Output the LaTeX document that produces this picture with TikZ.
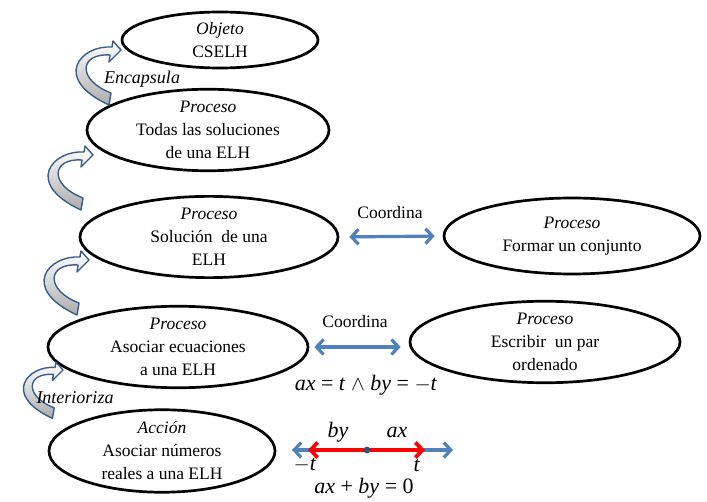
\documentclass[tikz,border=0pt]{standalone}
\usepackage{fontspec}
\setmainfont{Liberation Serif}
\usetikzlibrary{shapes.geometric,arrows.meta}
\definecolor{ablue}{RGB}{79,129,189}
\definecolor{dblue}{RGB}{56,93,138}
\definecolor{dotc}{RGB}{50,80,120}
\begin{document}
\begin{tikzpicture}[x=1pt,y=-1pt,
  elli/.style={draw, ellipse, line width=2.7pt, inner sep=0pt, align=center,
    font=\fontsize{17.5}{23}\selectfont},
  lab/.style={inner sep=0pt, font=\fontsize{17.5}{21}\selectfont},
  mlab/.style={inner sep=0pt, font=\fontsize{22}{26}\selectfont},
  coord/.style={ablue, line width=3.2pt,
    {Straight Barb[length=7pt,width=15pt]}-{Straight Barb[length=7pt,width=15pt]}},
  redarr/.style={red, line width=3.8pt, -{Straight Barb[length=7pt,width=15pt]}},
  uturn/.pic={
    \path[draw=dblue, line width=1.4pt, top color=white, bottom color=gray!65, line join=round]
      (-9,-3) .. controls (-40,-5) and (-70,28) .. (-12,55) -- (-10,43)
      .. controls (-44,30) and (-42,3) .. (-11,5) -- (-12,12) -- (0,0) -- (-8,-9) -- cycle;
  }]
\useasboundingbox (0,0) rectangle (707,502);

\node[elli, minimum width=196pt, minimum height=56pt] (e1) at (220,40) {\textit{Objeto}\\CSELH};
\node[elli, minimum width=242pt, minimum height=76pt] (e2) at (208,130) {\textit{Proceso}\\Todas las soluciones\\de una ELH};
\node[elli, minimum width=258pt, minimum height=77pt] (e3) at (209,237) {\textit{Proceso}\\Solución\ \ de una\\ELH};
\node[elli, minimum width=256pt, minimum height=76pt] (e4) at (572,236) {\textit{Proceso}\\Formar un conjunto};
\node[elli, minimum width=260pt, minimum height=72pt] (e5) at (178,347) {\textit{Proceso}\\Asociar ecuaciones\\a una ELH};
\node[elli, minimum width=270pt, minimum height=76pt] (e6) at (545,342) {\textit{Proceso}\\Escribir\ \ un par\\ordenado};
\node[elli, minimum width=226pt, minimum height=82pt] (e7) at (162,451) {\textit{Acción}\\Asociar números\\reales a una ELH};

\pic at (121,50) {uturn};
\pic at (93,155) {uturn};
\pic at (89,260) {uturn};
\pic[scale=0.88] at (63,370) {uturn};

\node[lab, font=\fontsize{18}{21}\selectfont\itshape] (enc) at (142,79) {Encapsula};
\node[lab, font=\fontsize{18}{21}\selectfont\itshape] (inte) at (75,398) {Interioriza};

\node[lab] (co1) at (390,213) {Coordina};
\draw[coord, shorten <=10pt, shorten >=8pt] (e3.east) -- (e4.west);
\node[lab] (co2) at (355,322) {Coordina};
\draw[coord, shorten <=5pt, shorten >=8pt] (e5.east) -- (e5.east -| e6.west);

\node[mlab] (eq1) at (366,385) {\textit{ax} = \textit{t} $\wedge$\ \textit{by} = $-$\textit{t}};

\coordinate (nl) at (292,450);
\coordinate (nr) at (453,450);
\coordinate (c0) at (367,450);
\coordinate (mt) at (308,450);
\coordinate (tt) at (425,450);
\draw[coord] (nl) -- (nr);
\draw[redarr] (c0) -- (mt);
\draw[redarr] (c0) -- (tt);
\fill[dotc] (c0) circle (3.4);
\node[mlab] (lby) at (338,432) {\textit{by}};
\node[mlab] (lax) at (397,432) {\textit{ax}};
\node[mlab] (lmt) at (305,465) {$-$\textit{t}};
\node[mlab] (lt) at (417,465) {\textit{t}};
\node[mlab] (eq2) at (364,488) {\textit{ax} + \textit{by} = 0};
\end{tikzpicture}
\end{document}
